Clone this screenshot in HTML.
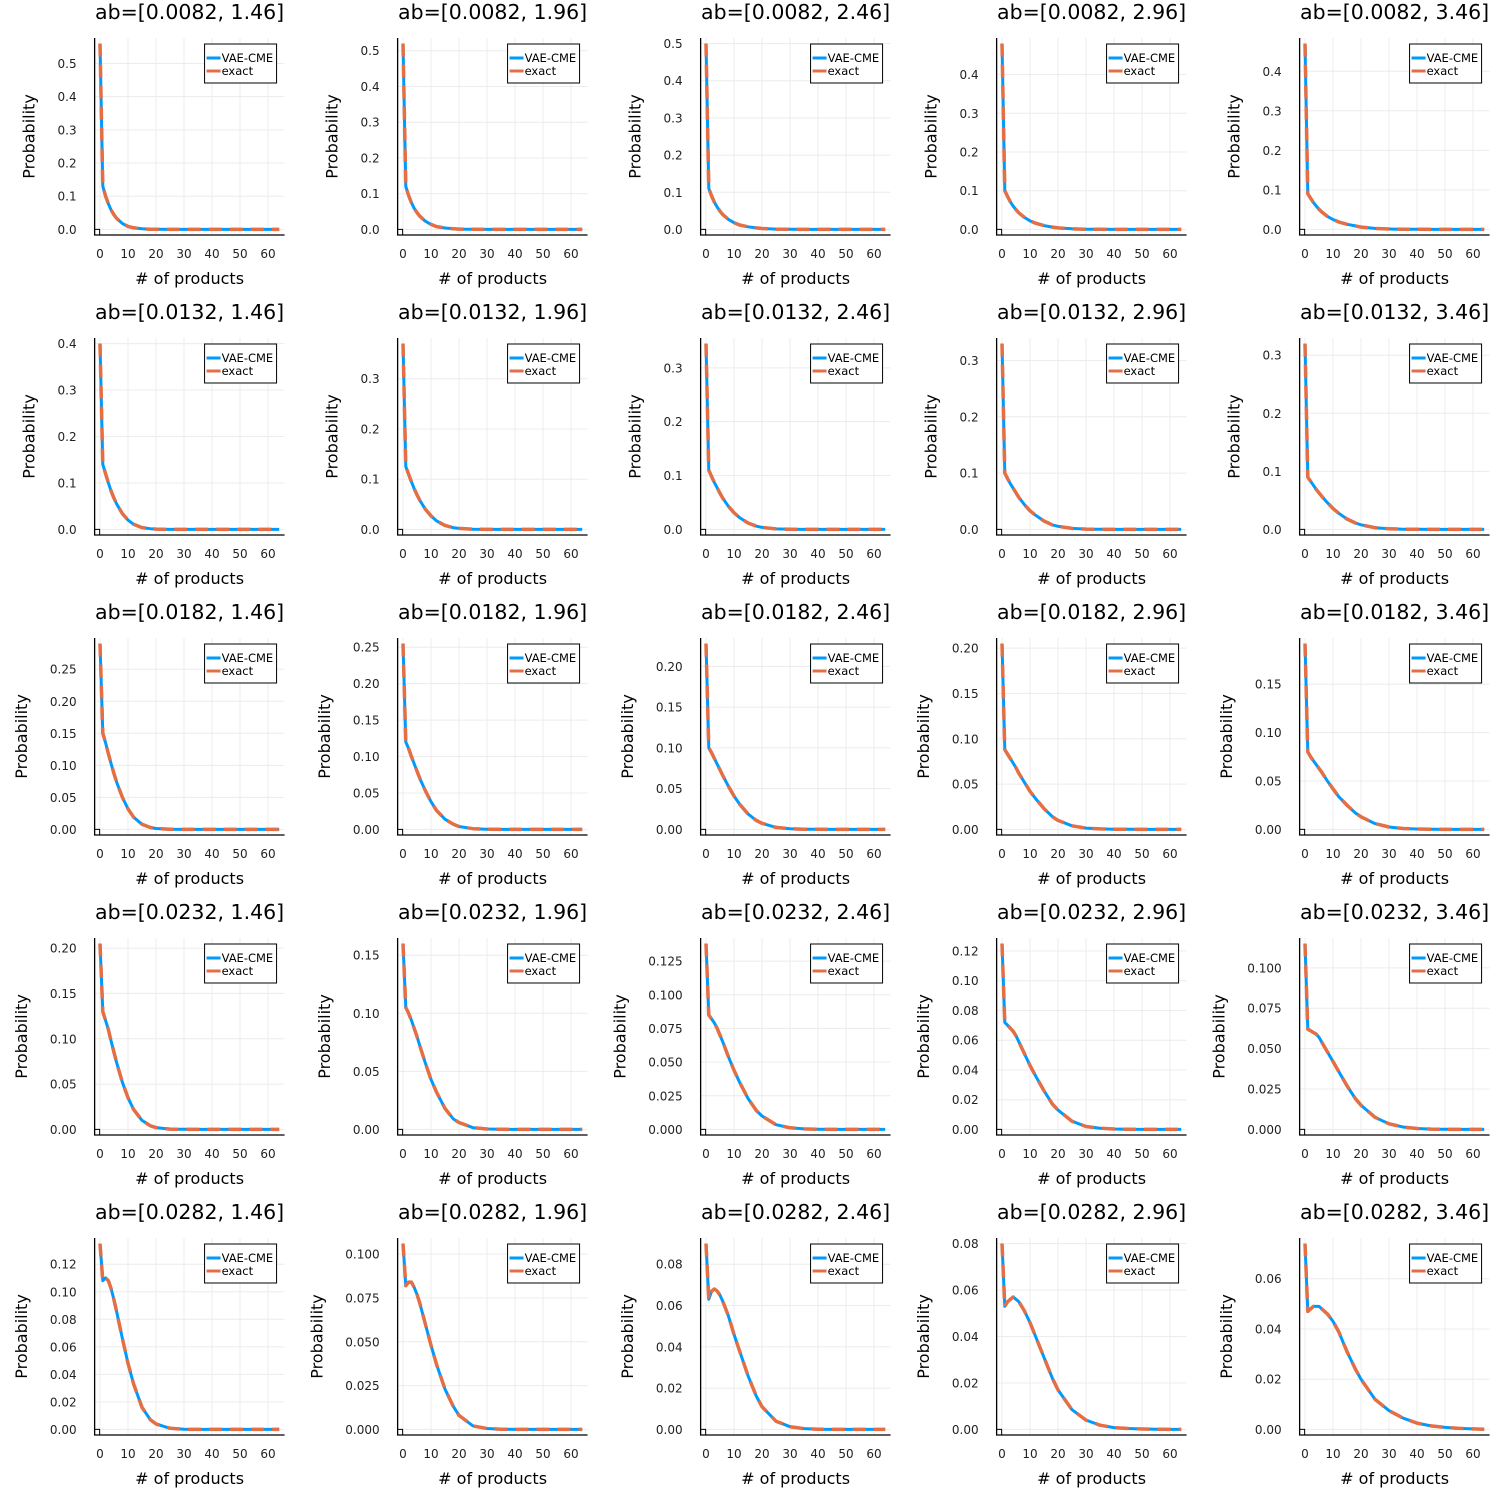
<!DOCTYPE html>
<html><head><meta charset="utf-8"><style>
html,body{margin:0;padding:0;background:#fff;}
svg{display:block;font-family:"DejaVu Sans","Liberation Sans",sans-serif;}
</style></head><body>
<svg id="fig" width="1500" height="1500" viewBox="0 0 1500 1500" xmlns="http://www.w3.org/2000/svg"></svg>
<script>
const xs = [0,1,2,3,4,5,6,8,10,12,15,18,20,25,30,35,40,45,50,55,60,64];
const aVals = ["0.0082","0.0132","0.0182","0.0232","0.0282"];
const bVals = ["1.46","1.96","2.46","2.96","3.46"];
const xTicks = [0,10,20,30,40,50,60];
const probs = [
 [.56,.13,.10,.077,.058,.044,.033,.018,.009,.005,.002,.0008,.0004,.0001,0,0,0,0,0,0,0,0],
 [.52,.12,.095,.075,.059,.047,.037,.023,.014,.008,.004,.002,.001,.0003,.0001,0,0,0,0,0,0,0],
 [.50,.11,.09,.073,.06,.049,.04,.027,.018,.012,.007,.004,.0025,.0008,.0003,.0001,0,0,0,0,0,0],
 [.48,.10,.085,.071,.06,.051,.043,.031,.022,.016,.01,.006,.004,.0015,.0006,.0002,.0001,0,0,0,0,0],
 [.47,.09,.079,.068,.059,.051,.044,.033,.025,.019,.013,.009,.006,.0025,.001,.0004,.0002,.0001,0,0,0,0],

 [.40,.14,.12,.10,.082,.067,.054,.034,.02,.011,.004,.0015,.0007,.0001,0,0,0,0,0,0,0,0],
 [.37,.125,.11,.095,.081,.069,.058,.04,.027,.017,.008,.0035,.002,.0004,.0001,0,0,0,0,0,0,0],
 [.345,.11,.098,.087,.077,.067,.058,.043,.031,.022,.012,.006,.0038,.001,.0003,.0001,0,0,0,0,0,0],
 [.33,.10,.09,.081,.073,.065,.057,.044,.033,.025,.015,.008,.0055,.0018,.0006,.0002,.0001,0,0,0,0,0],
 [.32,.09,.083,.076,.069,.063,.057,.046,.036,.028,.018,.011,.008,.003,.001,.0004,.0002,.0001,0,0,0,0],

 [.29,.15,.135,.118,.102,.087,.073,.05,.032,.019,.008,.003,.0015,.0003,.0001,0,0,0,0,0,0,0],
 [.255,.12,.111,.10,.09,.08,.07,.053,.038,.026,.014,.007,.004,.001,.0003,.0001,0,0,0,0,0,0],
 [.228,.10,.094,.087,.08,.073,.066,.053,.041,.031,.019,.011,.0075,.0025,.0008,.0003,.0001,0,0,0,0,0],
 [.205,.088,.083,.078,.073,.068,.062,.052,.042,.034,.023,.014,.01,.004,.0015,.0006,.0002,.0001,0,0,0,0],
 [.192,.08,.075,.071,.067,.063,.059,.05,.042,.034,.025,.017,.013,.006,.0025,.001,.0004,.0001,0,0,0,0],

 [.205,.13,.12,.11,.097,.085,.073,.052,.035,.022,.01,.004,.002,.0004,.0001,0,0,0,0,0,0,0],
 [.16,.105,.10,.094,.087,.08,.072,.057,.043,.032,.018,.009,.006,.0015,.0004,.0001,0,0,0,0,0,0],
 [.138,.085,.082,.079,.075,.07,.065,.054,.044,.035,.023,.014,.01,.0035,.0012,.0004,.0001,0,0,0,0,0],
 [.125,.072,.07,.068,.066,.063,.059,.051,.043,.036,.026,.017,.013,.0055,.002,.0008,.0003,.0001,0,0,0,0],
 [.115,.062,.061,.06,.059,.057,.054,.048,.042,.036,.027,.019,.015,.0075,.0035,.0015,.0006,.0002,.0001,0,0,0],

 [.135,.108,.11,.108,.102,.094,.085,.066,.048,.033,.016,.007,.004,.0008,.0001,0,0,0,0,0,0,0],
 [.106,.082,.084,.084,.081,.077,.072,.06,.048,.037,.023,.013,.008,.002,.0005,.0001,0,0,0,0,0,0],
 [.09,.063,.067,.068,.067,.065,.062,.055,.046,.038,.026,.016,.011,.004,.0013,.0004,.0001,0,0,0,0,0],
 [.08,.053,.055,.056,.057,.056,.055,.051,.046,.04,.031,.022,.017,.0085,.004,.0018,.0008,.0004,.0002,.0001,0,0],
 [.074,.047,.048,.049,.049,.049,.048,.046,.043,.039,.031,.024,.02,.012,.0075,.0045,.0025,.0014,.0008,.0004,.0002,.0001]
];
const tickStep = [.1,.1,.1,.1,.1, .1,.1,.1,.1,.1, .05,.05,.05,.05,.05, .05,.05,.025,.02,.025, .02,.025,.02,.02,.02];
const tickDec = [1,1,1,1,1, 1,1,1,1,1, 2,2,2,2,2, 2,2,3,2,3, 2,3,2,2,2];

const NS="http://www.w3.org/2000/svg";
const svg=document.getElementById('fig');
function mk(tag,attrs,parent){const e=document.createElementNS(NS,tag);for(const k in attrs)e.setAttribute(k,attrs[k]);(parent||svg).appendChild(e);return e;}
const colX0=[100,403,706,1002,1305];
const sx=2.8;
function tw(s){let w=0;for(const ch of s)w+=(ch==='.')?3.8:7.63;return w;}

for(let r=0;r<5;r++)for(let c=0;c<5;c++){
  const i=r*5+c;
  const g=mk('g',{});
  
  
  const x0=colX0[c];
  const X=v=>x0+v*sx;
  const left=X(-1.92), right=X(65.92);
  const top=r*300+38, bot=r*300+235;
  const ymax=Math.max(...probs[i]);
  const ylo=-0.03*ymax, yhi=1.03*ymax;
  const Y=v=>bot-(v-ylo)/(yhi-ylo)*(bot-top);
  xTicks.forEach(t=>{const l=mk('line',{x1:X(t),x2:X(t),y1:top,y2:bot,stroke:'#ececec','stroke-width':1},g);
    });
  const st=tickStep[i];
  const yt=[];for(let k=0;k*st<=ymax+1e-9;k++)yt.push(+(k*st).toFixed(4));
  let maxW=0;
  yt.forEach(t=>{const l=mk('line',{x1:left,x2:right,y1:Y(t),y2:Y(t),stroke:'#ececec','stroke-width':1},g);
    
    const s=t.toFixed(tickDec[i]);maxW=Math.max(maxW,tw(s));
    const tx=mk('text',{x:left-18,y:Y(t)+4.5,'font-size':12,'text-anchor':'end',fill:'#222'},g);tx.textContent=s;
    });
  xTicks.forEach(t=>{const tx=mk('text',{x:X(t),y:r*300+258,'font-size':12,'text-anchor':'middle',fill:'#222'},g);tx.textContent=t;
    });
  const ax=mk('path',{d:`M${left},${top}V${bot}H${right}`,stroke:'#000','stroke-width':1.3,fill:'none'},g);
  
  mk('path',{d:`M${left},${Y(0)}h5v${bot-Y(0)}`,stroke:'#000','stroke-width':1,fill:'none'},g);
  const pts=xs.map((x,k)=>X(x).toFixed(1)+','+Y(probs[i][k]).toFixed(1)).join(' ');
  const l1=mk('polyline',{points:pts,fill:'none',stroke:'#009AFA','stroke-width':3,'stroke-linejoin':'round'},g);
  
  const l2=mk('polyline',{points:pts,fill:'none',stroke:'#E26F46','stroke-width':3.5,'stroke-dasharray':'13 8','stroke-linejoin':'round'},g);
  
  const ti=mk('text',{x:(left+right)/2,y:r*300+19,'font-size':20.5,'text-anchor':'middle',fill:'#000'},g);
  ti.textContent='ab=['+aVals[r]+', '+bVals[c]+']';
  
  const xl=mk('text',{x:(left+right)/2,y:r*300+284,'font-size':16,'text-anchor':'middle',fill:'#000'},g);
  xl.textContent='# of products';
  
  const yc=left-18-maxW-29, ym=(top+bot)/2;
  const yl=mk('text',{x:yc,y:ym+6,'font-size':16,'text-anchor':'middle',fill:'#000',transform:`rotate(-90 ${yc} ${ym})`},g);
  yl.textContent='Probability';
  
  const lg=mk('g',{},g);
  
  const lx=right-80, ly=top+6;
  mk('rect',{x:lx,y:ly,width:72,height:39,fill:'#fff',stroke:'#000','stroke-width':1},lg);
  mk('line',{x1:lx+2,x2:lx+16,y1:ly+14,y2:ly+14,stroke:'#009AFA','stroke-width':3},lg);
  const t1=mk('text',{x:lx+17,y:ly+18,'font-size':11.5,fill:'#000'},lg);t1.textContent='VAE-CME';
  
  mk('line',{x1:lx+2,x2:lx+16,y1:ly+27,y2:ly+27,stroke:'#E26F46','stroke-width':3},lg);
  const t2=mk('text',{x:lx+17,y:ly+31,'font-size':11.5,fill:'#000'},lg);t2.textContent='exact';
  
}
</script>
</body></html>
